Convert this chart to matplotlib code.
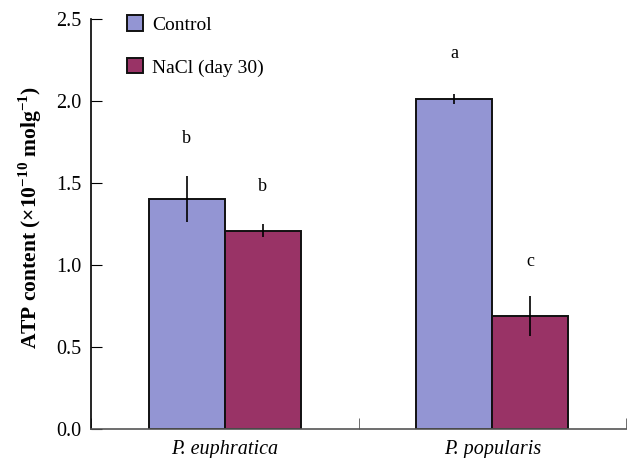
import matplotlib
matplotlib.use("Agg")
import matplotlib.pyplot as plt
import numpy as np

plt.rcParams['font.family'] = ['Liberation Serif', 'DejaVu Serif']
plt.rcParams['mathtext.fontset'] = 'custom'
plt.rcParams['mathtext.rm'] = 'Liberation Serif'
plt.rcParams['mathtext.bf'] = 'Liberation Serif:bold'

species = ['P. euphratica', 'P. popularis']
control = [1.40, 2.01]
control_err = [0.14, 0.03]
nacl = [1.21, 0.69]
nacl_err = [0.04, 0.12]
control_letters = ['b', 'a']
nacl_letters = ['b', 'c']
control_letter_y = [1.77, 2.29]
nacl_letter_y = [1.48, 1.02]

fig = plt.figure(figsize=(6.3, 4.58), dpi=100)
ax = fig.add_axes([0.1444, 0.0633, 0.8493, 0.8952])

x = np.arange(len(species))
w = 0.284
ax.bar(x - w / 2, control, w, color='#9395D3', edgecolor='#111111',
       linewidth=1.4, label='Control')
ax.bar(x + w / 2, nacl, w, color='#993366', edgecolor='#111111',
       linewidth=1.4, label='NaCl (day 30)')
ax.errorbar(x - w / 2, control, yerr=control_err, fmt='none',
            ecolor='black', elinewidth=1.2, capsize=0)
ax.errorbar(x + w / 2, nacl, yerr=nacl_err, fmt='none',
            ecolor='black', elinewidth=1.2, capsize=0)

for i in range(len(species)):
    ax.text(x[i] - w / 2, control_letter_y[i], control_letters[i],
            ha='center', va='center', fontsize=13)
    ax.text(x[i] + w / 2, nacl_letter_y[i], nacl_letters[i],
            ha='center', va='center', fontsize=13)

ax.set_xlim(-0.5, 1.5)
ax.set_ylim(0, 2.5)
ax.set_yticks([0, 0.5, 1.0, 1.5, 2.0, 2.5])
ax.set_yticklabels(['0.0', '0.5', '1.0', '1.5', '2.0', '2.5'])
ax.set_xticks(x)
ax.set_xticklabels(species, fontstyle='italic', fontsize=14.5)
ax.set_xticks([-0.5, 0.5, 1.5], minor=True)
ax.tick_params(axis='x', which='major', length=0, pad=8)
ax.tick_params(axis='x', which='minor', direction='in', length=8,
               color='#555555')
ax.tick_params(axis='y', direction='in', length=8, labelsize=14.5, pad=7)

for s in ['top', 'right']:
    ax.spines[s].set_visible(False)
ax.spines['left'].set_linewidth(1.2)
ax.spines['bottom'].set_color('#555555')
ax.spines['bottom'].set_linewidth(1.2)

ax.set_ylabel(r'ATP content (×10$^{\mathbf{-10}}$ molg$^{\mathbf{-1}}$)',
              fontsize=15.5, fontweight='bold')
ax.yaxis.set_label_coords(-0.087, 0.517)

ax.legend(loc='upper left', bbox_to_anchor=(0.034, 1.052), frameon=False,
          fontsize=14, handlelength=0.85, handleheight=0.85,
          labelspacing=1.25, handletextpad=0.45)

fig.savefig('out.png', dpi=100)
